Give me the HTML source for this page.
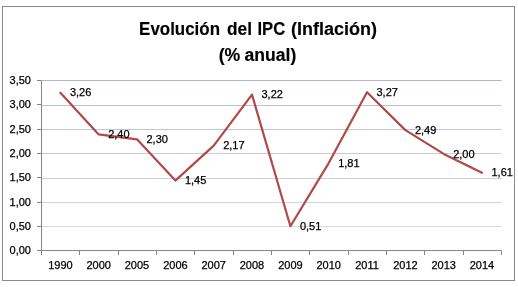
<!DOCTYPE html>
<html><head><meta charset="utf-8"><style>
html,body{margin:0;padding:0;background:#fff;width:518px;height:287px;overflow:hidden}
svg{display:block;will-change:transform}
.t{font-family:"Liberation Sans", sans-serif;font-size:11px;fill:#000;stroke:#000;stroke-width:0.25px}
.ti{font-family:"Liberation Sans", sans-serif;font-size:18px;font-weight:bold;fill:#000;stroke:#000;stroke-width:0.15px}
</style></head><body>
<svg width="518" height="287" viewBox="0 0 518 287">
<rect x="2.5" y="6.5" width="512" height="274" fill="#fff" stroke="#898989" stroke-width="1"/>
<line x1="41.5" y1="226.5" x2="501.5" y2="226.5" stroke="#D7D8DD" stroke-width="1"/>
<line x1="41.5" y1="202.5" x2="501.5" y2="202.5" stroke="#D2D5DC" stroke-width="1"/>
<line x1="41.5" y1="178.5" x2="501.5" y2="178.5" stroke="#CDD1DC" stroke-width="1"/>
<line x1="41.5" y1="153.5" x2="501.5" y2="153.5" stroke="#C8CCD8" stroke-width="1"/>
<line x1="41.5" y1="129.5" x2="501.5" y2="129.5" stroke="#C0C5D8" stroke-width="1"/>
<line x1="41.5" y1="105.5" x2="501.5" y2="105.5" stroke="#BAC3D0" stroke-width="1"/>
<line x1="41.5" y1="80.5" x2="501.5" y2="80.5" stroke="#AEB8CA" stroke-width="1"/>
<line x1="41.5" y1="80.5" x2="41.5" y2="255.0" stroke="#868686" stroke-width="1"/>
<line x1="37.0" y1="250.5" x2="501.5" y2="250.5" stroke="#868686" stroke-width="1"/>
<line x1="37.0" y1="250.5" x2="41.5" y2="250.5" stroke="#868686" stroke-width="1"/>
<line x1="37.0" y1="226.5" x2="41.5" y2="226.5" stroke="#868686" stroke-width="1"/>
<line x1="37.0" y1="202.5" x2="41.5" y2="202.5" stroke="#868686" stroke-width="1"/>
<line x1="37.0" y1="177.5" x2="41.5" y2="177.5" stroke="#868686" stroke-width="1"/>
<line x1="37.0" y1="153.5" x2="41.5" y2="153.5" stroke="#868686" stroke-width="1"/>
<line x1="37.0" y1="129.5" x2="41.5" y2="129.5" stroke="#868686" stroke-width="1"/>
<line x1="37.0" y1="104.5" x2="41.5" y2="104.5" stroke="#868686" stroke-width="1"/>
<line x1="37.0" y1="80.5" x2="41.5" y2="80.5" stroke="#868686" stroke-width="1"/>
<line x1="79.5" y1="250.5" x2="79.5" y2="255.0" stroke="#868686" stroke-width="1"/>
<line x1="118.5" y1="250.5" x2="118.5" y2="255.0" stroke="#868686" stroke-width="1"/>
<line x1="156.5" y1="250.5" x2="156.5" y2="255.0" stroke="#868686" stroke-width="1"/>
<line x1="194.5" y1="250.5" x2="194.5" y2="255.0" stroke="#868686" stroke-width="1"/>
<line x1="233.5" y1="250.5" x2="233.5" y2="255.0" stroke="#868686" stroke-width="1"/>
<line x1="271.5" y1="250.5" x2="271.5" y2="255.0" stroke="#868686" stroke-width="1"/>
<line x1="309.5" y1="250.5" x2="309.5" y2="255.0" stroke="#868686" stroke-width="1"/>
<line x1="348.5" y1="250.5" x2="348.5" y2="255.0" stroke="#868686" stroke-width="1"/>
<line x1="386.5" y1="250.5" x2="386.5" y2="255.0" stroke="#868686" stroke-width="1"/>
<line x1="424.5" y1="250.5" x2="424.5" y2="255.0" stroke="#868686" stroke-width="1"/>
<line x1="463.5" y1="250.5" x2="463.5" y2="255.0" stroke="#868686" stroke-width="1"/>
<line x1="501.5" y1="250.5" x2="501.5" y2="255.0" stroke="#868686" stroke-width="1"/>
<text x="31" y="254.1" text-anchor="end" class="t">0,00</text>
<text x="31" y="230.1" text-anchor="end" class="t">0,50</text>
<text x="31" y="206.1" text-anchor="end" class="t">1,00</text>
<text x="31" y="181.1" text-anchor="end" class="t">1,50</text>
<text x="31" y="157.1" text-anchor="end" class="t">2,00</text>
<text x="31" y="133.1" text-anchor="end" class="t">2,50</text>
<text x="31" y="108.1" text-anchor="end" class="t">3,00</text>
<text x="31" y="84.1" text-anchor="end" class="t">3,50</text>
<text x="60.4" y="268.5" text-anchor="middle" class="t">1990</text>
<text x="98.7" y="268.5" text-anchor="middle" class="t">2000</text>
<text x="137.0" y="268.5" text-anchor="middle" class="t">2005</text>
<text x="175.4" y="268.5" text-anchor="middle" class="t">2006</text>
<text x="213.7" y="268.5" text-anchor="middle" class="t">2007</text>
<text x="252.0" y="268.5" text-anchor="middle" class="t">2008</text>
<text x="290.4" y="268.5" text-anchor="middle" class="t">2009</text>
<text x="328.7" y="268.5" text-anchor="middle" class="t">2010</text>
<text x="367.0" y="268.5" text-anchor="middle" class="t">2011</text>
<text x="405.4" y="268.5" text-anchor="middle" class="t">2012</text>
<text x="443.7" y="268.5" text-anchor="middle" class="t">2013</text>
<text x="482.0" y="268.5" text-anchor="middle" class="t">2014</text>
<polyline points="60.4,92.7 98.7,134.4 137.0,139.3 175.4,180.6 213.7,145.6 252.0,94.6 290.4,226.2 328.7,163.1 367.0,92.2 405.4,130.1 443.7,153.9 482.0,172.8" fill="none" stroke="#AF4A47" stroke-width="2.2" stroke-linejoin="round" stroke-linecap="round"/>
<text x="69.9" y="96.3" class="t">3,26</text>
<text x="108.2" y="138.0" class="t">2,40</text>
<text x="146.5" y="142.9" class="t">2,30</text>
<text x="184.9" y="184.2" class="t">1,45</text>
<text x="223.2" y="149.2" class="t">2,17</text>
<text x="261.5" y="98.2" class="t">3,22</text>
<text x="299.9" y="229.8" class="t">0,51</text>
<text x="338.2" y="166.7" class="t">1,81</text>
<text x="376.5" y="95.8" class="t">3,27</text>
<text x="414.9" y="133.7" class="t">2,49</text>
<text x="453.2" y="157.5" class="t">2,00</text>
<text x="491.5" y="176.4" class="t">1,61</text>
<text x="139.1" y="35" textLength="80.9" lengthAdjust="spacingAndGlyphs" class="ti">Evolución</text>
<text x="227" y="35" textLength="25" lengthAdjust="spacingAndGlyphs" class="ti">del</text>
<text x="257.5" y="35" textLength="27.7" lengthAdjust="spacingAndGlyphs" class="ti">IPC</text>
<text x="291" y="35" textLength="86" lengthAdjust="spacingAndGlyphs" class="ti">(Inflación)</text>
<text x="218.7" y="61" textLength="21.6" lengthAdjust="spacingAndGlyphs" class="ti">(%</text>
<text x="244.6" y="61" textLength="51.7" lengthAdjust="spacingAndGlyphs" class="ti">anual)</text>
</svg></body></html>
